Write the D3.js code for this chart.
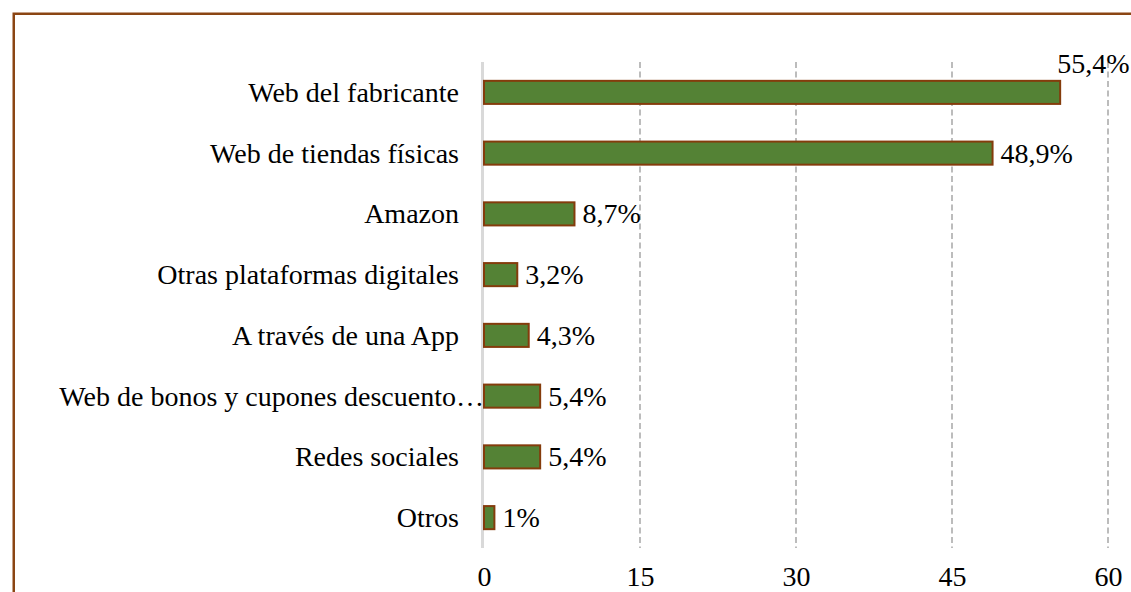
<!DOCTYPE html>
<html>
<head>
<meta charset="utf-8">
<script src="https://cdn.jsdelivr.net/npm/d3@7"></script>
<style>
  html, body { margin: 0; padding: 0; background: #fff; }
  svg { display: block; }
  svg text { font-family: "Liberation Serif", "Times New Roman", "DejaVu Serif", serif; fill: #000; }
</style>
</head>
<body>
<svg id="chart" width="1131" height="592"></svg>
<script>
// Canales de compra online (porcentaje de encuestados)
const categories = [
  "Web del fabricante",
  "Web de tiendas físicas",
  "Amazon",
  "Otras plataformas digitales",
  "A través de una App",
  "Web de bonos y cupones descuento…",
  "Redes sociales",
  "Otros"
];
const values = [55.4, 48.9, 8.7, 3.2, 4.3, 5.4, 5.4, 1];
const valueLabels = ["55,4%", "48,9%", "8,7%", "3,2%", "4,3%", "5,4%", "5,4%", "1%"];
const tickValues = [0, 15, 30, 45, 60];

const FONT = "Liberation Serif, Times New Roman, serif";
const FS = 28;

const svg = d3.select("#chart");
const W = 1131, H = 592;
const plot = { left: 484, right: 1108, top: 62, bottom: 548 };

// outer frame (runs past the right and bottom edges)
svg.append("rect")
  .attr("x", 13.75).attr("y", 13.75)
  .attr("width", W + 20).attr("height", H + 20)
  .attr("fill", "none")
  .attr("stroke", "#8B4513")
  .attr("stroke-width", 2.5);

const x = d3.scaleLinear().domain([0, 60]).range([plot.left, plot.right]);
const y = d3.scaleBand().domain(categories).range([plot.top, plot.bottom]).paddingInner(0.62).paddingOuter(0.31);

// vertical gridlines
svg.append("g")
  .selectAll("line")
  .data(tickValues.filter(d => d !== 0))
  .join("line")
  .attr("x1", d => x(d)).attr("x2", d => x(d))
  .attr("y1", plot.top).attr("y2", plot.bottom)
  .attr("stroke", "#A6A6A6")
  .attr("stroke-width", 1.5)
  .attr("stroke-dasharray", "6,3.5");

// category axis line at zero
svg.append("line")
  .attr("x1", x(0) - 1.5).attr("x2", x(0) - 1.5)
  .attr("y1", plot.top).attr("y2", plot.bottom)
  .attr("stroke", "#D9D9D9")
  .attr("stroke-width", 3);

// bars
svg.append("g")
  .selectAll("rect")
  .data(categories)
  .join("rect")
  .attr("x", x(0))
  .attr("y", d => y(d))
  .attr("width", (d, i) => x(values[i]) - x(0))
  .attr("height", y.bandwidth())
  .attr("fill", "#548235")
  .attr("stroke", "#843C0C")
  .attr("stroke-width", 2);

// category labels
svg.append("g")
  .selectAll("text")
  .data(categories)
  .join("text")
  .attr("x", (d, i) => i === 5 ? x(0) : 459)
  .attr("y", d => y(d) + y.bandwidth() / 2)
  .attr("dy", "0.34em")
  .attr("text-anchor", "end")
  .attr("font-family", FONT)
  .attr("font-size", FS)
  .text(d => d);

// value labels
svg.append("g")
  .selectAll("text")
  .data(categories)
  .join("text")
  .attr("x", (d, i) => i === 0 ? x(values[i]) - 3 : x(values[i]) + 8)
  .attr("y", (d, i) => i === 0 ? y(d) - 8 : y(d) + y.bandwidth() / 2)
  .attr("dy", (d, i) => i === 0 ? "0" : "0.34em")
  .attr("text-anchor", "start")
  .attr("font-family", FONT)
  .attr("font-size", FS)
  .text((d, i) => valueLabels[i]);

// value axis ticks
const axis = d3.axisBottom(x).tickValues(tickValues).tickSize(0).tickPadding(0).tickFormat(d3.format("d"));
const gAxis = svg.append("g").attr("transform", `translate(0, 586)`).call(axis);
gAxis.select(".domain").remove();
gAxis.attr("font-family", FONT).attr("font-size", FS);
gAxis.selectAll("text")
  .attr("font-family", FONT)
  .attr("font-size", FS)
  .attr("fill", "#000")
  .attr("dy", "0");
</script>
</body>
</html>
